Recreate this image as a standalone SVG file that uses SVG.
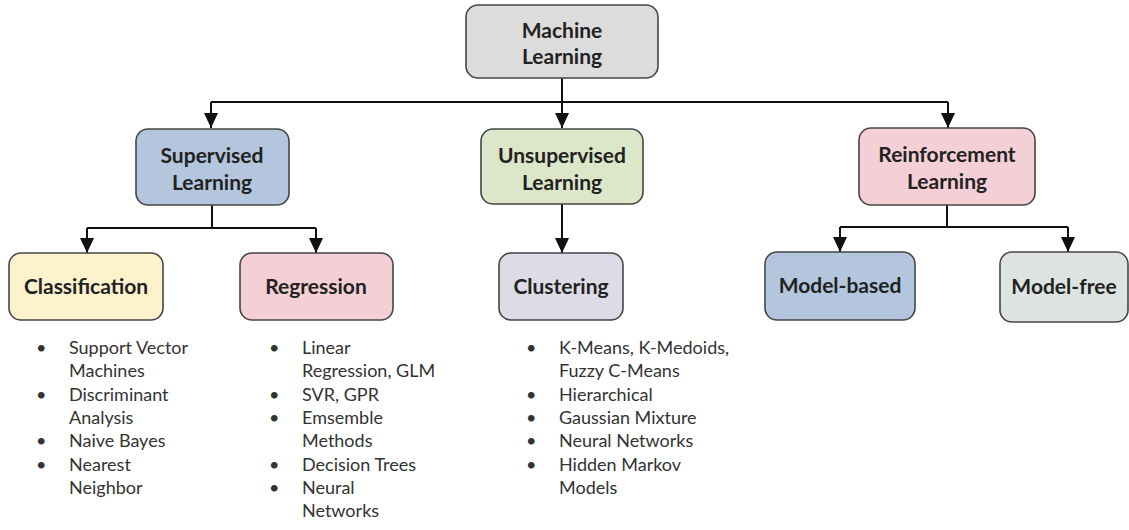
<svg xmlns="http://www.w3.org/2000/svg" width="1129" height="530" viewBox="0 0 1129 530">
<style>
.box{stroke:#454545;stroke-width:1.6}
.lbl{font-family:Lato,"Liberation Sans",sans-serif;font-weight:bold;font-size:21px;fill:#222;text-anchor:middle}
.li{font-family:Lato,"Liberation Sans",sans-serif;font-size:18px;fill:#333}
.con{fill:none;stroke:#111;stroke-width:2}
.arr{fill:none;stroke:#111;stroke-width:2;marker-end:url(#ah)}
</style>
<defs>
<marker id="ah" markerUnits="userSpaceOnUse" markerWidth="16" markerHeight="14" refX="15" refY="7" orient="auto" viewBox="0 0 16 14">
<path d="M0,0 L15,7 L0,14 Z" fill="#111"/>
</marker>
</defs>
<rect width="1129" height="530" fill="#fff"/>
<g id="connectors">
<path class="con" d="M562,78 V102 M211,102 H948"/>
<path class="arr" d="M211,102 V128"/>
<path class="arr" d="M562,102 V128"/>
<path class="arr" d="M948,102 V128"/>
<path class="con" d="M212,205 V228 M87,228 H316"/>
<path class="arr" d="M87,228 V253"/>
<path class="arr" d="M316,228 V253"/>
<path class="arr" d="M562,204 V253"/>
<path class="con" d="M947,205 V227 M840,227 H1068"/>
<path class="arr" d="M840,227 V252"/>
<path class="arr" d="M1068,227 V252"/>
</g>
<g id="machine-learning">
<rect class="box" x="466" y="5" width="192" height="73" rx="12" fill="#dcdcdc"/>
<text class="lbl" x="562" y="38">Machine</text>
<text class="lbl" x="562" y="64">Learning</text>
</g>
<g id="supervised">
<rect class="box" x="136" y="129" width="153" height="76" rx="12" fill="#b3c6dd"/>
<text class="lbl" x="212" y="163">Supervised</text>
<text class="lbl" x="212" y="190">Learning</text>
</g>
<g id="unsupervised">
<rect class="box" x="481" y="129" width="162" height="75" rx="12" fill="#dce6c8"/>
<text class="lbl" x="562" y="163">Unsupervised</text>
<text class="lbl" x="562" y="190">Learning</text>
</g>
<g id="reinforcement">
<rect class="box" x="859" y="128" width="176" height="77" rx="12" fill="#f5cfd6"/>
<text class="lbl" x="947" y="162">Reinforcement</text>
<text class="lbl" x="947" y="189">Learning</text>
</g>
<g id="classification">
<rect class="box" x="9" y="253" width="154" height="67" rx="12" fill="#fdf2cc"/>
<text class="lbl" x="86" y="294">Classification</text>
</g>
<g id="regression">
<rect class="box" x="240" y="253" width="153" height="67" rx="12" fill="#f5cfd6"/>
<text class="lbl" x="316" y="294">Regression</text>
</g>
<g id="clustering">
<rect class="box" x="499" y="253" width="124" height="67" rx="12" fill="#dcdbe6"/>
<text class="lbl" x="561" y="294">Clustering</text>
</g>
<g id="model-based">
<rect class="box" x="765" y="252" width="150" height="68" rx="12" fill="#b3c6dd"/>
<text class="lbl" x="840" y="293">Model-based</text>
</g>
<g id="model-free">
<rect class="box" x="1000" y="252" width="128" height="70" rx="12" fill="#dde3e0"/>
<text class="lbl" x="1064" y="294">Model-free</text>
</g>
<g id="classification-list" class="li">
<text x="36" y="354">•</text><text x="69" y="354">Support Vector</text>
<text x="69" y="377">Machines</text>
<text x="36" y="401">•</text><text x="69" y="401">Discriminant</text>
<text x="69" y="424">Analysis</text>
<text x="36" y="447">•</text><text x="69" y="447">Naive Bayes</text>
<text x="36" y="471">•</text><text x="69" y="471">Nearest</text>
<text x="69" y="494">Neighbor</text>
</g>
<g id="regression-list" class="li">
<text x="269" y="354">•</text><text x="302" y="354">Linear</text>
<text x="302" y="377">Regression, GLM</text>
<text x="269" y="401">•</text><text x="302" y="401">SVR, GPR</text>
<text x="269" y="424">•</text><text x="302" y="424">Emsemble</text>
<text x="302" y="447">Methods</text>
<text x="269" y="471">•</text><text x="302" y="471">Decision Trees</text>
<text x="269" y="494">•</text><text x="302" y="494">Neural</text>
<text x="302" y="517">Networks</text>
</g>
<g id="clustering-list" class="li">
<text x="526" y="354">•</text><text x="559" y="354">K-Means, K-Medoids,</text>
<text x="559" y="377">Fuzzy C-Means</text>
<text x="526" y="401">•</text><text x="559" y="401">Hierarchical</text>
<text x="526" y="424">•</text><text x="559" y="424">Gaussian Mixture</text>
<text x="526" y="447">•</text><text x="559" y="447">Neural Networks</text>
<text x="526" y="471">•</text><text x="559" y="471">Hidden Markov</text>
<text x="559" y="494">Models</text>
</g>
</svg>
